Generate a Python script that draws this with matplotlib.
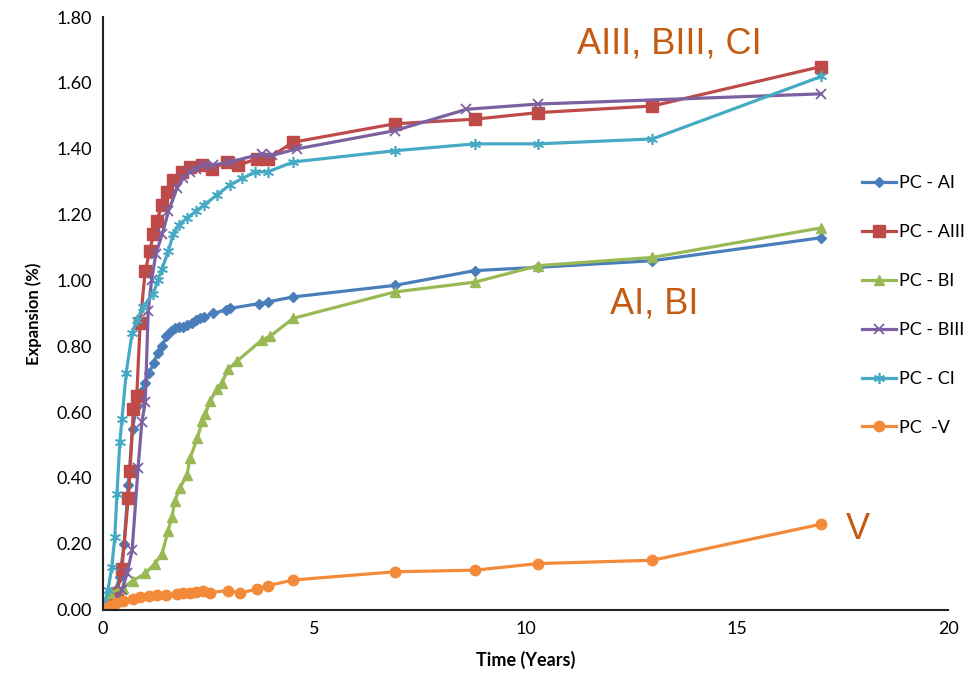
import numpy as np
import matplotlib.pyplot as plt

plt.rcParams['font.family'] = ['Lato', 'DejaVu Sans']

# expansion data, time in years, expansion in %
ai_t = [0, 0.1, 0.2, 0.3, 0.4, 0.5, 0.6, 0.7, 0.8, 0.9, 1.0, 1.1, 1.2, 1.3, 1.4, 1.5, 1.6, 1.7,
        1.8, 1.9, 2.0, 2.1, 2.2, 2.3, 2.4, 2.6, 2.9, 3.0, 3.7, 3.9, 4.5, 6.9, 8.8, 10.3, 13.0, 17.0]
ai_e = [0, 0.02, 0.04, 0.06, 0.1, 0.2, 0.38, 0.55, 0.62, 0.66, 0.69, 0.72, 0.75, 0.78, 0.8, 0.83,
        0.845, 0.855, 0.86, 0.86, 0.865, 0.87, 0.88, 0.885, 0.89, 0.9, 0.91, 0.915, 0.93, 0.935,
        0.95, 0.985, 1.03, 1.04, 1.06, 1.13]

aiii_t = [0, 0.1, 0.2, 0.33, 0.45, 0.6, 0.64, 0.72, 0.8, 0.88, 1.0, 1.11, 1.19, 1.27, 1.4, 1.52,
          1.66, 1.87, 2.06, 2.35, 2.58, 2.94, 3.2, 3.65, 3.9, 4.5, 6.9, 8.8, 10.3, 13.0, 17.0]
aiii_e = [0, 0.01, 0.02, 0.05, 0.125, 0.34, 0.42, 0.61, 0.65, 0.87, 1.03, 1.09, 1.14, 1.18, 1.23,
          1.27, 1.306, 1.33, 1.345, 1.35, 1.34, 1.36, 1.35, 1.37, 1.37, 1.42, 1.476, 1.49, 1.51,
          1.53, 1.65]

bi_t = [0, 0.17, 0.47, 0.71, 1.0, 1.23, 1.4, 1.54, 1.63, 1.7, 1.82, 1.99, 2.06, 2.23, 2.35, 2.42,
        2.54, 2.7, 2.82, 2.96, 3.17, 3.77, 3.95, 4.5, 6.9, 8.8, 10.3, 13.0, 17.0]
bi_e = [0, 0.05, 0.067, 0.088, 0.11, 0.14, 0.17, 0.24, 0.28, 0.33, 0.37, 0.41, 0.46, 0.52, 0.573,
        0.594, 0.635, 0.67, 0.69, 0.73, 0.755, 0.82, 0.83, 0.885, 0.965, 0.995, 1.045, 1.07, 1.16]

biii_t = [0, 0.2, 0.45, 0.57, 0.69, 0.83, 0.92, 1.0, 1.07, 1.15, 1.25, 1.4, 1.55, 1.75, 1.9, 2.06,
          2.2, 2.37, 2.6, 3.0, 3.77, 4.0, 4.6, 6.9, 8.6, 10.3, 17.0]
biii_e = [0, 0.01, 0.06, 0.11, 0.18, 0.43, 0.57, 0.63, 0.906, 1.0, 1.08, 1.14, 1.21, 1.28, 1.31,
          1.33, 1.34, 1.35, 1.35, 1.36, 1.385, 1.38, 1.40, 1.455, 1.52, 1.536, 1.567]

ci_t = [0, 0.12, 0.21, 0.28, 0.33, 0.4, 0.45, 0.55, 0.69, 0.8, 0.95, 1.19, 1.3, 1.4, 1.55, 1.66,
        1.8, 1.99, 2.2, 2.4, 2.7, 3.0, 3.3, 3.6, 3.9, 4.5, 6.9, 8.8, 10.3, 13.0, 17.0]
ci_e = [0, 0.06, 0.13, 0.22, 0.35, 0.51, 0.58, 0.72, 0.84, 0.88, 0.92, 0.96, 1.0, 1.036, 1.09, 1.14,
        1.17, 1.19, 1.21, 1.23, 1.26, 1.29, 1.31, 1.33, 1.33, 1.36, 1.394, 1.415, 1.415, 1.43, 1.62]

v_t = [0, 0.1, 0.17, 0.3, 0.47, 0.7, 0.88, 1.1, 1.28, 1.5, 1.75, 1.9, 2.06, 2.2, 2.37, 2.54, 2.96,
       3.25, 3.65, 3.9, 4.5, 6.9, 8.8, 10.3, 13.0, 17.0]
v_e = [0, 0.005, 0.012, 0.02, 0.027, 0.032, 0.037, 0.04, 0.043, 0.045, 0.048, 0.05, 0.052, 0.055,
       0.058, 0.052, 0.058, 0.05, 0.063, 0.073, 0.09, 0.115, 0.12, 0.14, 0.15, 0.26]

fig = plt.figure(figsize=(9.75, 6.85), dpi=100)
ax = fig.add_axes([0.1056, 0.11, 0.867, 0.865])

lw = 2.3
ax.plot(ai_t, ai_e, color='#4A7EBB', marker='D', ms=5.5, lw=lw, label='PC - AI')
ax.plot(aiii_t, aiii_e, color='#BE4B48', marker='s', ms=8, lw=lw, label='PC - AIII')
ax.plot(bi_t, bi_e, color='#98B954', marker='^', ms=7.5, lw=lw, label='PC - BI')
ax.plot(biii_t, biii_e, color='#7D60A0', marker='x', ms=7, mew=1.3, lw=lw, label='PC - BIII')
ax.plot(ci_t, ci_e, color='#46AAC5', marker=(6, 2, 0), ms=8, mew=1.2, lw=lw, label='PC - CI')
ax.plot(v_t, v_e, color='#F38A3A', marker='o', ms=7.5, lw=lw, label='PC  -V')

ax.set_xlim(0, 20)
ax.set_ylim(0, 1.80)
ax.set_xticks(np.arange(0, 21, 5))
ax.set_yticks(np.arange(0, 1.81, 0.2))
ax.set_yticklabels([f'{v:.2f}' for v in np.arange(0, 1.81, 0.2)])
ax.tick_params(length=0, labelsize=13, pad=8)
for s in ['top', 'right']:
    ax.spines[s].set_visible(False)
for s in ['left', 'bottom']:
    ax.spines[s].set_linewidth(1.5)
    ax.spines[s].set_color('#222222')

ax.set_xlabel('Time (Years)', fontsize=13, fontweight='bold', labelpad=10)
ax.set_ylabel('Expansion (%)', fontsize=12, fontweight='bold', labelpad=10)

leg = ax.legend(loc='upper left', bbox_to_anchor=(0.889, 0.745), frameon=False, fontsize=13,
                handlelength=1.9, handletextpad=0.15, labelspacing=1.82, borderaxespad=0)

note = dict(color='#C55A11', fontsize=26, family=['Liberation Sans', 'DejaVu Sans'])
ax.text(13.4, 1.665, 'AIII, BIII, CI', ha='center', va='bottom', **note)
ax.text(13.05, 0.875, 'AI, BI', ha='center', va='bottom', **note)
ax.text(17.87, 0.19, 'V', ha='center', va='bottom', **note)

fig.savefig('out.png', dpi=100)
